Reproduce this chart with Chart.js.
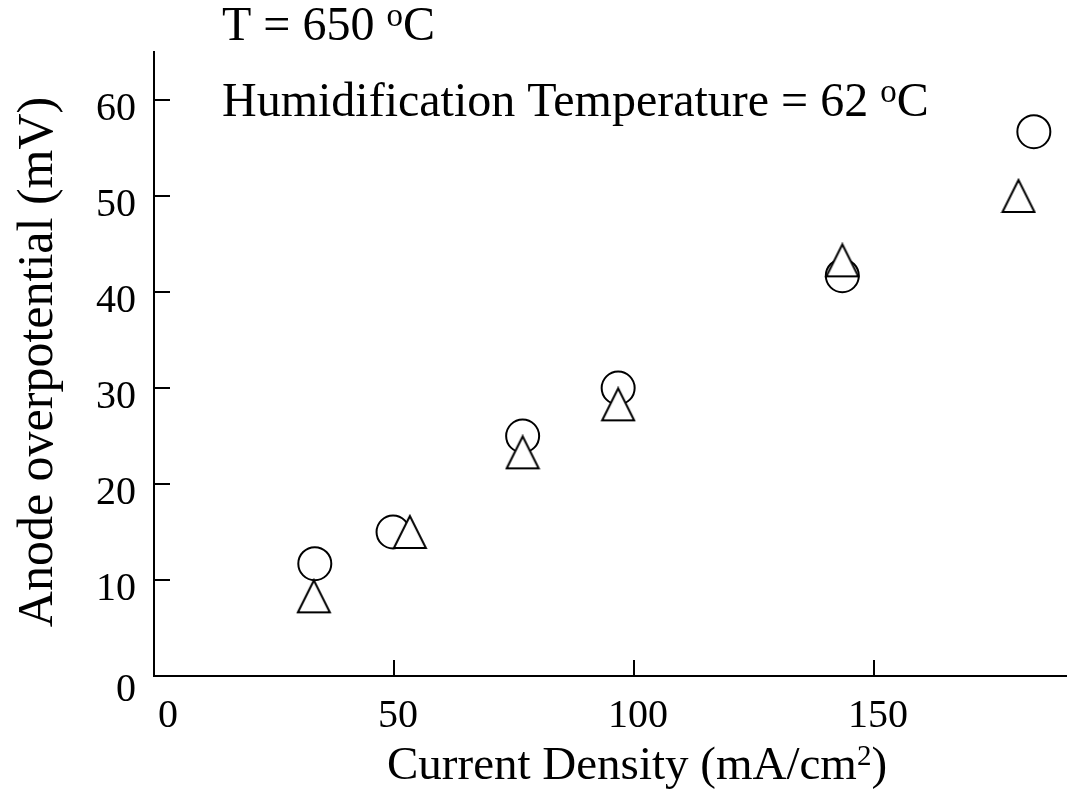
<!DOCTYPE html>
<html><head><meta charset="utf-8">
<script src="https://cdn.jsdelivr.net/npm/chart.js@4/dist/chart.umd.min.js"></script>
<style>html,body{margin:0;padding:0;background:#fff}</style>
</head><body>
<canvas id="c" width="1068" height="790"></canvas>
<script>
// ---- data ----
const circleX = [33.5, 49.8, 76.8, 96.7, 143.4, 183.3];
const circleY = [11.7, 15.0, 25.0, 30.0, 41.7, 56.7];
const triangleX = [33.3, 53.3, 76.8, 96.7, 143.4, 180.1];
const triangleY = [8.3, 15.0, 23.3, 28.3, 43.3, 50.0];
const xTickValues = [0, 50, 100, 150];
const yTickValues = [0, 10, 20, 30, 40, 50, 60];
const xTitleParts = [{t:'Current Density (mA/cm'},{t:'2',sup:true},{t:')'}];
const yTitleText = 'Anode overpotential (mV)';
const note1Parts = [{t:'T = 650 '},{t:'o',sup:true},{t:'C'}];
const note2Parts = [{t:'Humidification Temperature = 62 '},{t:'o',sup:true},{t:'C'}];

const FONT = '"Liberation Serif", "Times New Roman", serif';

function toPoints(xs, ys){ return xs.map((x,i)=>({x:x, y:ys[i]})); }

// open triangle marker (white filled so it covers circles behind it)
const tri = document.createElement('canvas');
tri.width = 36; tri.height = 36;
(function(){
  const g = tri.getContext('2d');
  g.beginPath();
  g.moveTo(2, 34); g.lineTo(18, 2); g.lineTo(34, 34); g.closePath();
  g.fillStyle = '#fff'; g.fill();
  g.lineWidth = 2; g.strokeStyle = '#000'; g.lineJoin = 'miter'; g.stroke();
})();

function drawRich(ctx, parts, x, y, size, supScale, supRise){
  let cx = x;
  for (const p of parts){
    if (p.sup){
      ctx.font = Math.round(size*(supScale||0.68)) + 'px ' + FONT;
      ctx.fillText(p.t, cx, y - size*(supRise||0.36));
    } else {
      ctx.font = size + 'px ' + FONT;
      ctx.fillText(p.t, cx, y);
    }
    cx += ctx.measureText(p.t).width;
  }
  return cx - x;
}

const decor = {
  id: 'decor',
  afterDraw(chart){
    const ctx = chart.ctx;
    const xs = chart.scales.x, ys = chart.scales.y;
    const area = chart.chartArea;
    ctx.save();
    ctx.strokeStyle = '#000'; ctx.fillStyle = '#000'; ctx.lineWidth = 2;
    // inward tick marks
    ctx.beginPath();
    xTickValues.forEach(v=>{ if(v===0) return; const px = Math.round(xs.getPixelForValue(v));
      ctx.moveTo(px, area.bottom); ctx.lineTo(px, area.bottom-16); });
    yTickValues.forEach(v=>{ if(v===0) return; const py = Math.round(ys.getPixelForValue(v));
      ctx.moveTo(area.left, py); ctx.lineTo(area.left+16, py); });
    ctx.stroke();
    // tick labels
    ctx.font = '40px ' + FONT;
    ctx.textAlign = 'center'; ctx.textBaseline = 'alphabetic';
    xTickValues.forEach(v=>{ const px = xs.getPixelForValue(v) + (v===0 ? 14 : 4);
      ctx.fillText(String(v), px, area.bottom + 51); });
    ctx.textAlign = 'right';
    yTickValues.forEach(v=>{ const py = ys.getPixelForValue(v) + (v===0 ? 25 : 20);
      ctx.fillText(String(v), area.left - 18, py); });
    // axis titles
    ctx.textAlign = 'left';
    drawRich(ctx, xTitleParts, 387, 779, 47, 0.62, 0.3);
    ctx.save();
    ctx.translate(52, 362); ctx.rotate(-Math.PI/2);
    ctx.font = '50px ' + FONT; ctx.textAlign = 'center';
    ctx.fillText(yTitleText, 0, 0);
    ctx.restore();
    // annotations
    ctx.textAlign = 'left';
    drawRich(ctx, note1Parts, 222, 40, 48, 0.68, 0.3);
    drawRich(ctx, note2Parts, 222, 116, 48, 0.68, 0.3);
    ctx.restore();
  }
};

new Chart(document.getElementById('c'), {
  type: 'scatter',
  data: {
    datasets: [
      { label: 'Triangles', data: toPoints(triangleX, triangleY),
        pointStyle: tri, pointRadius: 18, pointHoverRadius: 18 },
      { label: 'Circles', data: toPoints(circleX, circleY),
        pointStyle: 'circle', pointRadius: 16.5, pointHoverRadius: 16.5,
        borderColor: '#000', backgroundColor: '#fff', borderWidth: 2 }
    ]
  },
  options: {
    responsive: false, animation: false,
    layout: { autoPadding: false, padding: { top: 52, right: 2, left: 0, bottom: 0 } },
    plugins: { legend: { display: false }, tooltip: { enabled: false } },
    scales: {
      x: { type: 'linear', min: 0, max: 190,
        grid: { display: false }, border: { display: true, color: '#000', width: 2 },
        ticks: { display: false },
        afterFit(s){ s.height = 114; } },
      y: { type: 'linear', min: 0, max: 65,
        grid: { display: false }, border: { display: true, color: '#000', width: 2 },
        ticks: { display: false },
        afterFit(s){ s.width = 154; } }
    }
  },
  plugins: [decor]
});
</script>
</body></html>
